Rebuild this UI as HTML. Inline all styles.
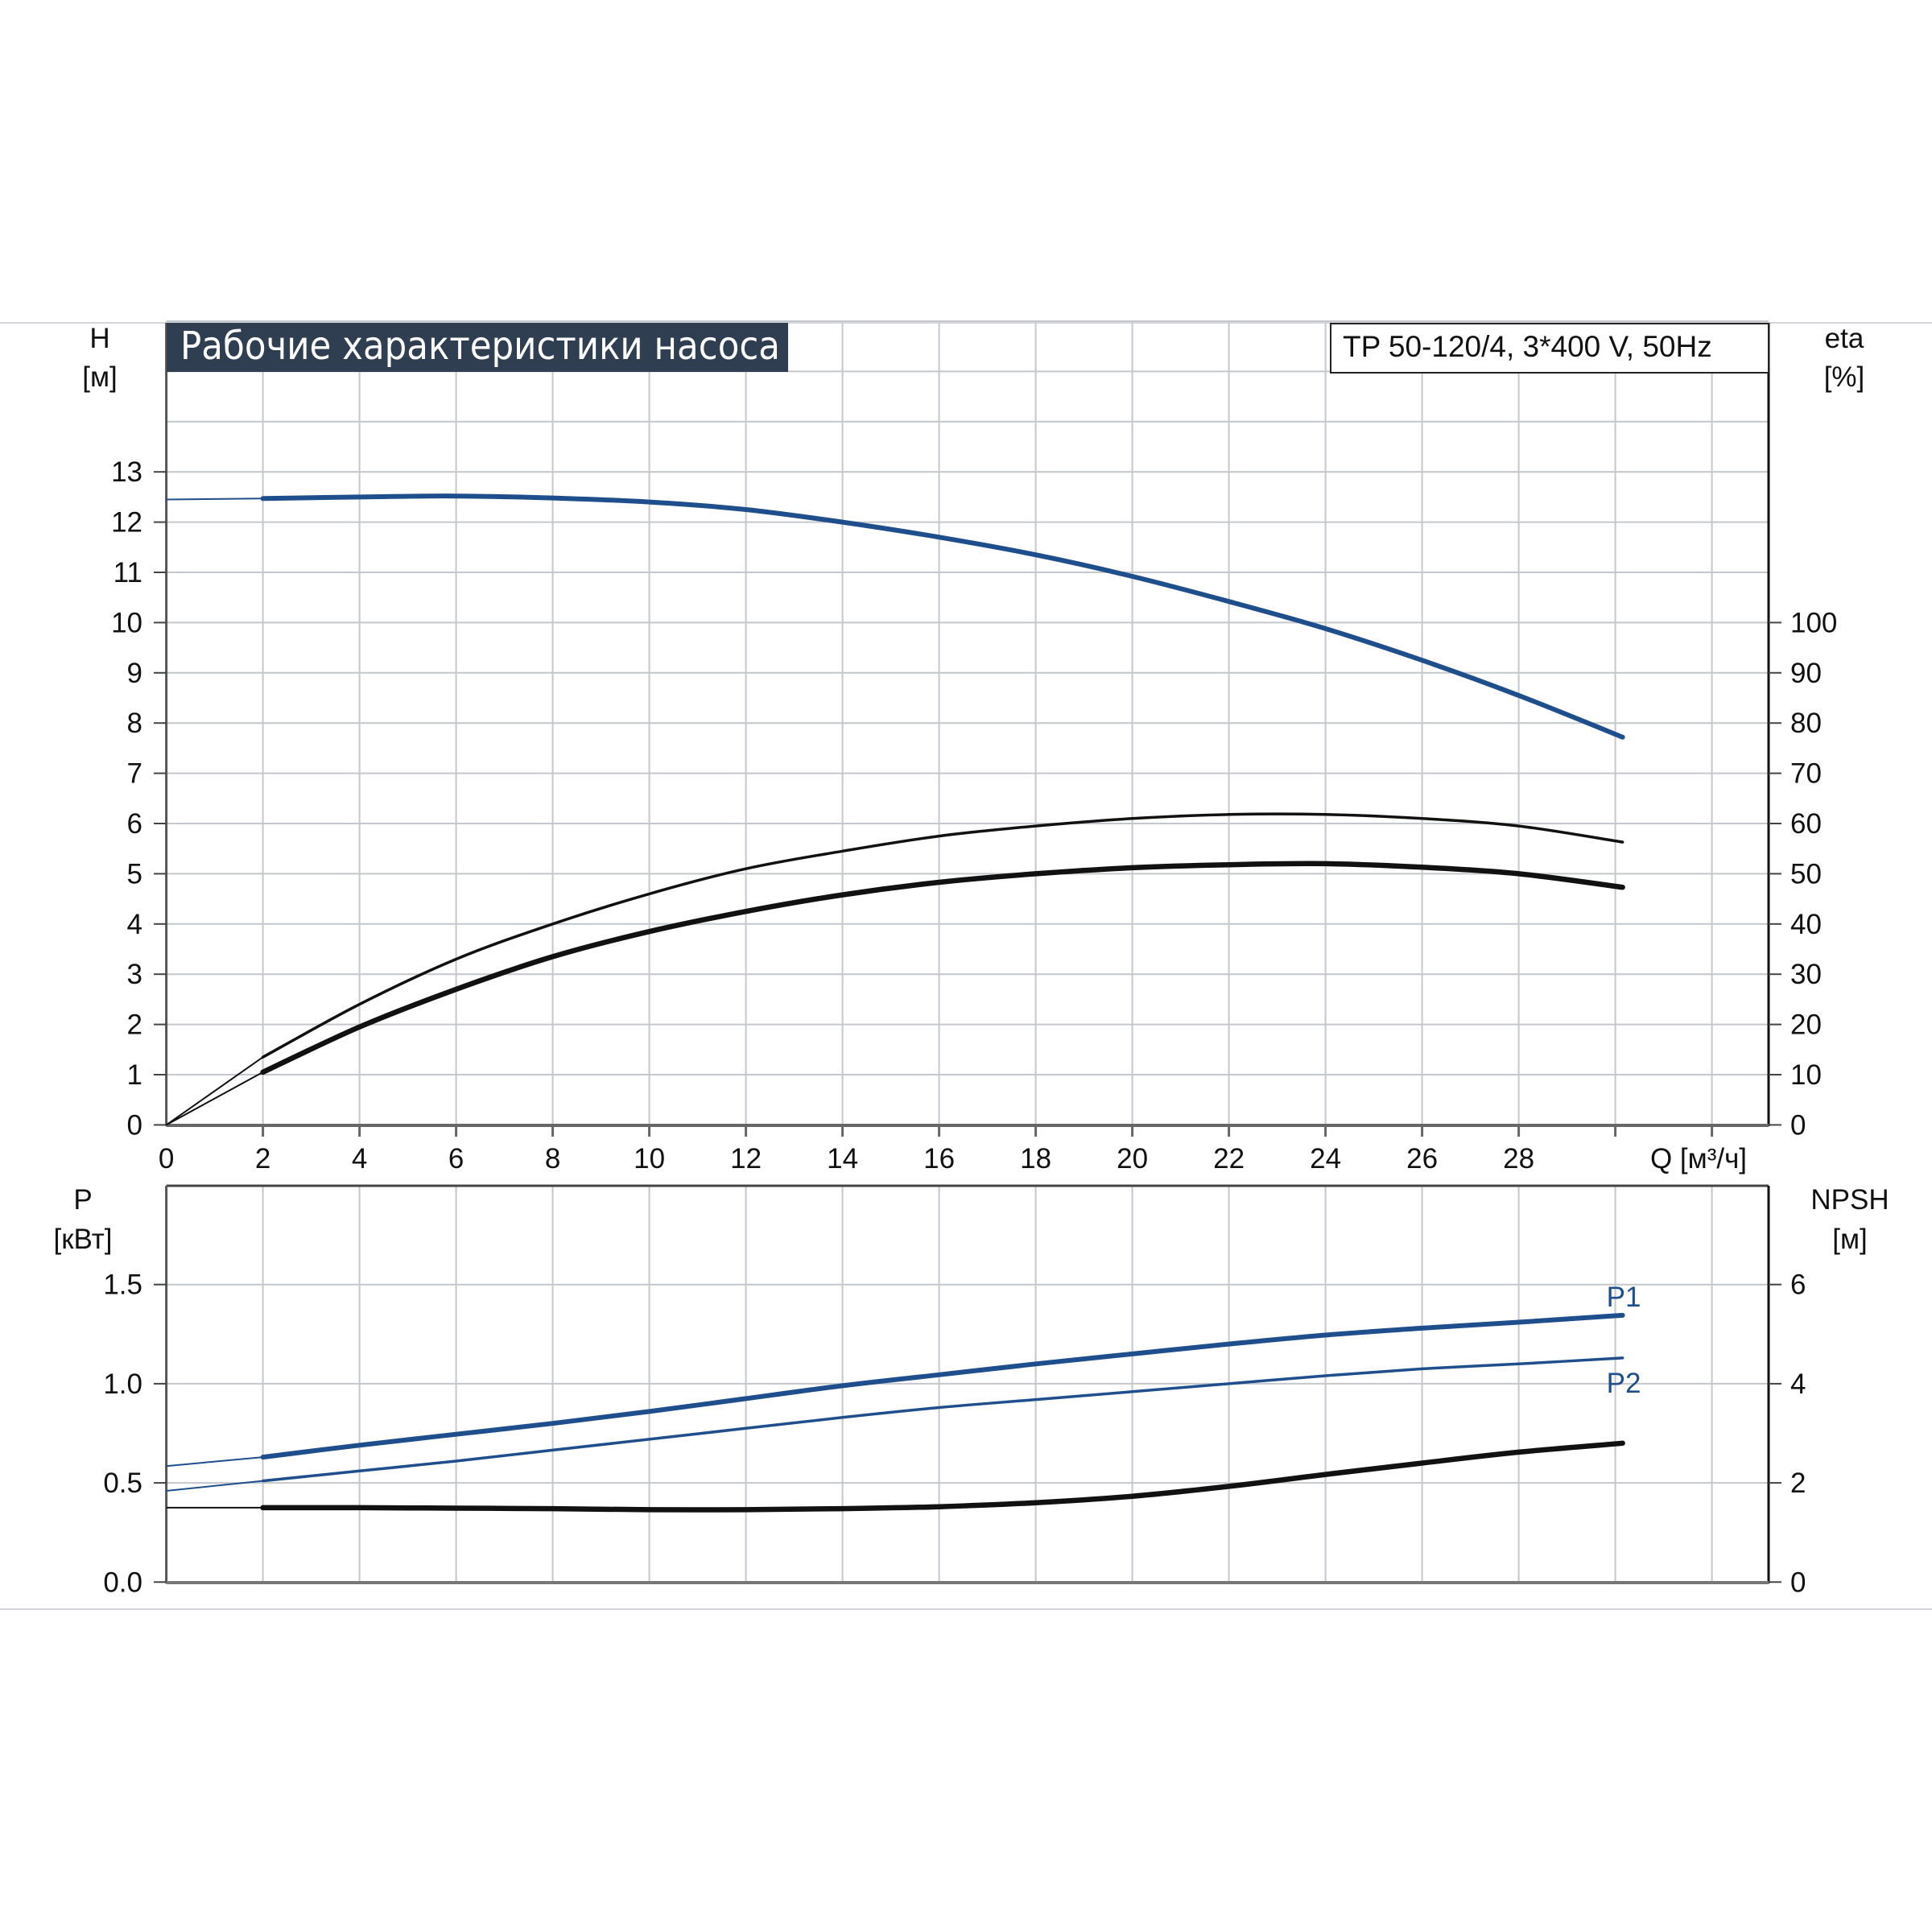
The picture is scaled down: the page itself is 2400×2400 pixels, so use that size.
<!DOCTYPE html>
<html><head><meta charset="utf-8"><style>
html,body{margin:0;padding:0;background:#fff;}
svg{display:block;font-family:"Liberation Sans","DejaVu Sans",sans-serif;}
</style></head><body>
<svg id="chart" width="2400" height="2400" viewBox="0 0 2400 2400" xmlns="http://www.w3.org/2000/svg">
<line x1="0" y1="401" x2="2400" y2="401" stroke="#d4d6d9" stroke-width="2"/>
<line x1="0" y1="1999" x2="2400" y2="1999" stroke="#d4d6d9" stroke-width="2"/>
<g id="grid"></g>
<g id="curves"></g>
<g id="labels"></g>
<rect x="207" y="401" width="772" height="61" fill="#2f3e50"/>
<text x="224" y="446" font-size="48" fill="#fff" textLength="745" lengthAdjust="spacingAndGlyphs" font-family="'DejaVu Sans Condensed','Liberation Sans Narrow','Liberation Sans',sans-serif">Рабочие характеристики насоса</text>
<rect x="1653" y="402" width="544" height="61" fill="#fff" stroke="#222" stroke-width="2"/>
<text x="1668" y="443" font-size="37" fill="#111">TP 50-120/4, 3*400 V, 50Hz</text>
</svg>
<script>
// data
const qTicks = [0,2,4,6,8,10,12,14,16,18,20,22,24,26,28];
const hTicks = [0,1,2,3,4,5,6,7,8,9,10,11,12,13];
const etaTicks = [0,10,20,30,40,50,60,70,80,90,100];
const pTicks = [0.0,0.5,1.0,1.5];
const npshTicks = [0,2,4,6];
const qPts = [0,2,4,6,8,10,12,14,16,18,20,22,24,26,28,30.15];
const headH = [12.45,12.47,12.5,12.52,12.48,12.4,12.25,12.0,11.7,11.35,10.92,10.42,9.88,9.25,8.55,7.72];
const etaPump = [0,13.5,24,33,40,46,51,54.5,57.5,59.5,61,61.8,61.8,61,59.5,56.3];
const etaTotal = [0,10.5,19.5,27,33.5,38.5,42.5,45.8,48.3,50,51.2,51.8,52,51.3,50,47.3];
const powerP1 = [0.585,0.63,0.69,0.745,0.80,0.86,0.925,0.99,1.045,1.10,1.15,1.20,1.245,1.28,1.31,1.345];
const powerP2 = [0.46,0.51,0.56,0.61,0.665,0.72,0.775,0.83,0.88,0.92,0.96,1.0,1.04,1.075,1.10,1.13];
const npshR = [1.5,1.5,1.5,1.49,1.48,1.46,1.46,1.48,1.52,1.6,1.73,1.93,2.17,2.4,2.62,2.8];

const NS="http://www.w3.org/2000/svg";
const X0=206.6, XU=60.0, XR=2197;
const xQ=q=>X0+XU*q;
const yH=h=>1397.4-62.4*h;
const yEta=e=>yH(e/10);
const yP=p=>1965.3-246.4*p;
const yN=n=>yP(n/4);
function mk(tag,attrs,parent){const e=document.createElementNS(NS,tag);for(const k in attrs)e.setAttribute(k,attrs[k]);parent.appendChild(e);return e;}
const grid=document.getElementById('grid'),curves=document.getElementById('curves'),labels=document.getElementById('labels');
const GC="#c4c7cb";
for(let q=2;q<=32;q+=2){const l=mk('line',{x1:xQ(q),y1:401,x2:xQ(q),y2:1397,stroke:GC,'stroke-width':2},grid);

}
for(let h=1;h<=16;h++){const l=mk('line',{x1:X0,y1:yH(h),x2:XR,y2:yH(h),stroke:GC,'stroke-width':2},grid);

}
for(let q=2;q<=32;q+=2){const l=mk('line',{x1:xQ(q),y1:1473,x2:xQ(q),y2:1965,stroke:GC,'stroke-width':2},grid);

}
for(let p=0.5;p<=1.5;p+=0.5){const l=mk('line',{x1:X0,y1:yP(p),x2:XR,y2:yP(p),stroke:GC,'stroke-width':2},grid);

}
function axisLine(x1,y1,x2,y2,name,col,w){const l=mk('line',{x1,y1,x2,y2,stroke:col,'stroke-width':w},grid);

}
axisLine(X0,401,X0,1399,'top-left-axis','#555',3);
axisLine(XR,401,XR,1399,'top-right-axis','#111',3);
axisLine(X0,1398,XR,1398,'q-axis','#666',4);
axisLine(X0,1473,XR,1473,'bottom-top-border','#444',3);
axisLine(X0,1473,X0,1967,'p-axis','#555',3);
axisLine(XR,1473,XR,1967,'npsh-axis','#111',3);
axisLine(X0,1966,XR,1966,'bottom-x-axis','#777',4);
function txt(x,y,s,anchor,size,name,fill){const t=mk('text',{x,y,'font-size':size,'text-anchor':anchor,fill:fill||'#111'},labels);t.textContent=s;

return t;}
qTicks.forEach(q=>{txt(xQ(q),1451,String(q),'middle',35,'q-tick-label');
if(q>0){const l=mk('line',{x1:xQ(q),y1:1398,x2:xQ(q),y2:1412,stroke:'#666','stroke-width':3},grid);

}});
[30,32].forEach(q=>{const l=mk('line',{x1:xQ(q),y1:1398,x2:xQ(q),y2:1412,stroke:'#666','stroke-width':3},grid);

});
hTicks.forEach(h=>{txt(177,yH(h)+12,String(h),'end',35,'h-tick-label');
const l=mk('line',{x1:191,y1:yH(h),x2:X0,y2:yH(h),stroke:'#444','stroke-width':2},grid);

});
etaTicks.forEach(e=>{txt(2224,yEta(e)+12,String(e),'start',35,'eta-tick-label');
const l=mk('line',{x1:XR,y1:yEta(e),x2:2213,y2:yEta(e),stroke:'#444','stroke-width':2},grid);

});
pTicks.forEach(p=>{txt(177,yP(p)+12,p.toFixed(1),'end',35,'p-tick-label');
const l=mk('line',{x1:191,y1:yP(p),x2:X0,y2:yP(p),stroke:'#444','stroke-width':2},grid);

});
npshTicks.forEach(n=>{txt(2224,yN(n)+12,String(n),'start',35,'npsh-tick-label');
const l=mk('line',{x1:XR,y1:yN(n),x2:2213,y2:yN(n),stroke:'#444','stroke-width':2},grid);

});
txt(124,432,'H','middle',35,'h-axis-title');
txt(124,480,'[м]','middle',35,'h-axis-unit');
txt(2291,432,'eta','middle',35,'eta-axis-title');
txt(2291,480,'[%]','middle',35,'eta-axis-unit');
txt(2110,1451,'Q [м³/ч]','middle',35,'q-axis-title');
txt(103,1502,'P','middle',35,'p-axis-title');
txt(103,1551,'[кВт]','middle',35,'p-axis-unit');
txt(2298,1502,'NPSH','middle',35,'npsh-axis-title');
txt(2298,1551,'[м]','middle',35,'npsh-axis-unit');
txt(2017,1623,'P1','middle',35,'p1-label','#1f4e8c');
txt(2017,1730,'P2','middle',35,'p2-label','#1f4e8c');
// smooth curves (Catmull-Rom)
function path(vals,yf,from,to){
 const P=[];for(let i=from;i<=to;i++)P.push([xQ(qPts[i]),yf(vals[i])]);
 let d='M'+P[0][0].toFixed(1)+','+P[0][1].toFixed(1);
 for(let i=0;i<P.length-1;i++){
  const p0=P[Math.max(0,i-1)],p1=P[i],p2=P[i+1],p3=P[Math.min(P.length-1,i+2)];
  const c1=[p1[0]+(p2[0]-p0[0])/6,p1[1]+(p2[1]-p0[1])/6];
  const c2=[p2[0]-(p3[0]-p1[0])/6,p2[1]-(p3[1]-p1[1])/6];
  d+=' C'+c1[0].toFixed(1)+','+c1[1].toFixed(1)+' '+c2[0].toFixed(1)+','+c2[1].toFixed(1)+' '+p2[0].toFixed(1)+','+p2[1].toFixed(1);
 }
 return d;}
function curve(vals,yf,col,w,name){
 const a=mk('path',{d:path(vals,yf,0,1),fill:'none',stroke:col,'stroke-width':2},curves);
 
 
 const b=mk('path',{d:path(vals,yf,1,vals.length-1),fill:'none',stroke:col,'stroke-width':w,'stroke-linejoin':'round','stroke-linecap':'round'},curves);
 
 }
curve(headH,yH,'#1f4e8c',6,'head-curve');
curve(etaPump,yEta,'#111',3.5,'eta-pump-curve');
curve(etaTotal,yEta,'#111',6.5,'eta-total-curve');
curve(powerP1,yP,'#1f4e8c',6,'p1-curve');
curve(powerP2,yP,'#1f4e8c',3.5,'p2-curve');
curve(npshR,yN,'#111',6.5,'npsh-curve');
</script>
</body></html>
